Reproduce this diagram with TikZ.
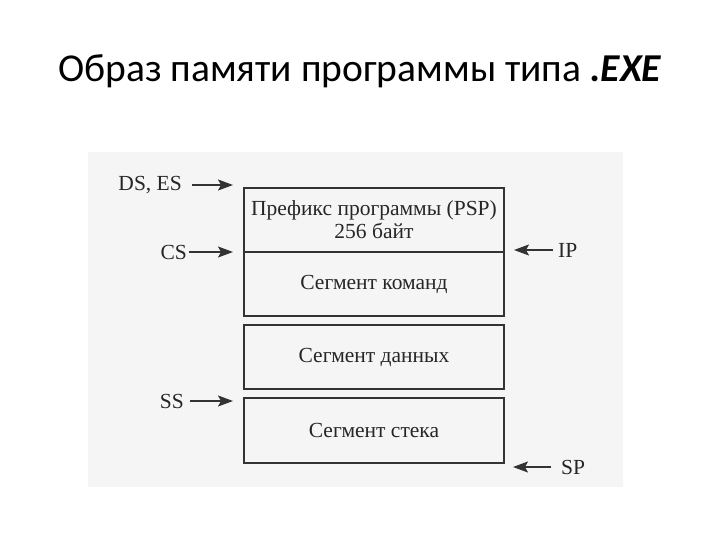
\documentclass[tikz,border=0pt]{standalone}
\usepackage{fontspec}
\setmainfont{Liberation Serif}
\newfontfamily\titlefont{Carlito}
\usetikzlibrary{positioning, calc, arrows.meta}

\begin{document}
\begin{tikzpicture}[
		x=1pt, y=-1pt,
		font=\fontsize{21.5}{23}\selectfont,
		seg/.style={draw=black!80, line width=1.4pt, rectangle, align=center, outer sep=0pt,
			minimum width=260pt, minimum height=64pt, text=black!85},
		reg/.style={inner sep=1pt, text=black!85, font=\fontsize{21.5}{23}\selectfont},
		arr/.style={-{Stealth[length=15pt, width=11pt, inset=3pt]}, line width=1.3pt, draw=black!80},
	]
	\useasboundingbox (0,0) rectangle (720,540);
	% scanned page
	\fill[black!4] (88,152) rectangle (623,487);

	\node[anchor=base, font=\titlefont\fontsize{39.5}{44}\selectfont] (title) at (360,82)
		{Образ памяти программы типа \textbf{\textit{.EXE}}};

	% memory segments
	\node[seg] (psp) at (374,220) {Префикс программы (PSP)\\256 байт};
	\node[seg, below=0pt of psp] (code) {Сегмент команд};
	\node[seg, below=9pt of code] (data) {Сегмент данных};
	\node[seg, below=9pt of data, minimum height=65pt] (stack) {Сегмент стека};

	% registers
	\node[reg, anchor=east] (dses) at (183,185) {DS, ES};
	\node[reg, anchor=east] (cs) at (188,252) {CS};
	\node[reg, anchor=east] (ss) at (185,401) {SS};
	\node[reg, anchor=west] (ip) at (557,250) {IP};
	\node[reg, anchor=west] (sp) at (560,467) {SP};

	\coordinate (dsin) at ($(psp.north west)+(-11pt,3pt)$);
	\coordinate (csin) at ($(code.north west)+(-11pt,0pt)$);
	\coordinate (ssin) at ($(stack.north west)+(-11pt,-3pt)$);
	\coordinate (ipin) at ($(code.north east)+(10pt,2pt)$);
	\coordinate (spin) at ($(stack.south east)+(9pt,-4pt)$);

	\draw[arr] ([xshift=9pt]dses.east) -- (dsin);
	\draw[arr] ([xshift=1pt]cs.east) -- (csin);
	\draw[arr] ([xshift=5pt]ss.east) -- (ssin);
	\draw[arr] ([xshift=-4pt]ip.west) -- (ipin);
	\draw[arr] ([xshift=-9pt]sp.west) -- (spin);
\end{tikzpicture}
\end{document}
